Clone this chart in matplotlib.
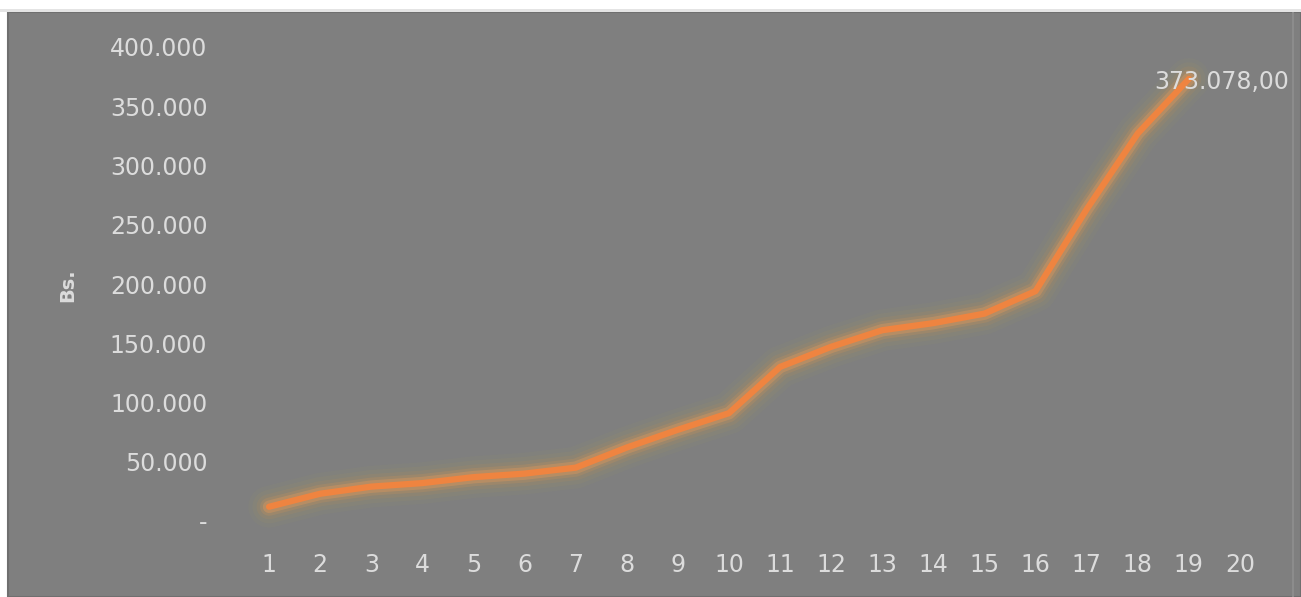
import matplotlib
matplotlib.use("Agg")
import matplotlib.pyplot as plt
from matplotlib.patches import Rectangle
from matplotlib.ticker import FuncFormatter, MultipleLocator

# acumulado por periodo (Bs.)
periodos = list(range(1, 20))
montos = [12000, 23000, 29000, 32000, 37000, 40000, 45000, 62000, 77000, 91000,
          130000, 147000, 161000, 167000, 175000, 194000, 263000, 327000, 373078]
eje_x = list(range(1, 21))

fondo = "#7f7f7f"
texto = "#dcdcdc"
naranja = "#ef8440"

W, H = 1301, 597
fig = plt.figure(figsize=(W / 100, H / 100), dpi=100, facecolor="white")

# panel gris con su borde
fig.patches.append(Rectangle((8 / W, 0), 1 - 8 / W, 1 - 12 / H, transform=fig.transFigure,
                             facecolor=fondo, edgecolor="#6f6f6f", linewidth=1.5, zorder=-2))
fig.patches.append(Rectangle((0, 1 - 12 / H), 1, 3 / H, transform=fig.transFigure,
                             facecolor="#e4e4e4", edgecolor="none", zorder=-1))
fig.patches.append(Rectangle((1292 / W, 0), 2 / W, 1 - 12 / H, transform=fig.transFigure,
                             facecolor="#8c8c8c", edgecolor="none", zorder=-1))

ax = fig.add_axes([243.5 / W, (H - 521) / H, 1022 / W, 474 / H])
ax.set_zorder(2)
ax.set_facecolor(fondo)
for s in ax.spines.values():
    s.set_visible(False)

# brillo alrededor de la linea
for lw, a, c in [(30, 0.07, "#a0a060"), (24, 0.09, "#b39a58"), (18, 0.13, "#c9924f"),
                 (13, 0.20, "#dc9450"), (9, 0.35, "#e99a58")]:
    ax.plot(periodos, montos, color=c, lw=lw, alpha=a, solid_capstyle="round",
            solid_joinstyle="round", clip_on=False)
ax.plot(periodos, montos, color=naranja, lw=4.5, solid_capstyle="round",
        solid_joinstyle="round", clip_on=False)

ax.annotate("373.078,00", (periodos[-1], montos[-1]), xytext=(24, -2), textcoords="offset points",
            ha="center", va="center", color=texto, fontsize=17)

ax.set_xlim(0.5, 20.5)
ax.set_ylim(0, 400000)
ax.set_xticks(eje_x)
ax.yaxis.set_major_locator(MultipleLocator(50000))


def miles(v, pos):
    if v == 0:
        return "-"
    return f"{int(v):,}".replace(",", ".")


ax.yaxis.set_major_formatter(FuncFormatter(miles))
ax.tick_params(axis="both", length=0, colors=texto, labelsize=17)
ax.tick_params(axis="y", pad=26)
ax.tick_params(axis="x", pad=23)

fig.text(68 / W, 1 - 285 / H, "Bs.", rotation=90, ha="center", va="center",
         color=texto, fontsize=14, fontweight="bold")

fig.savefig("out.png", dpi=100, facecolor=fig.get_facecolor())
